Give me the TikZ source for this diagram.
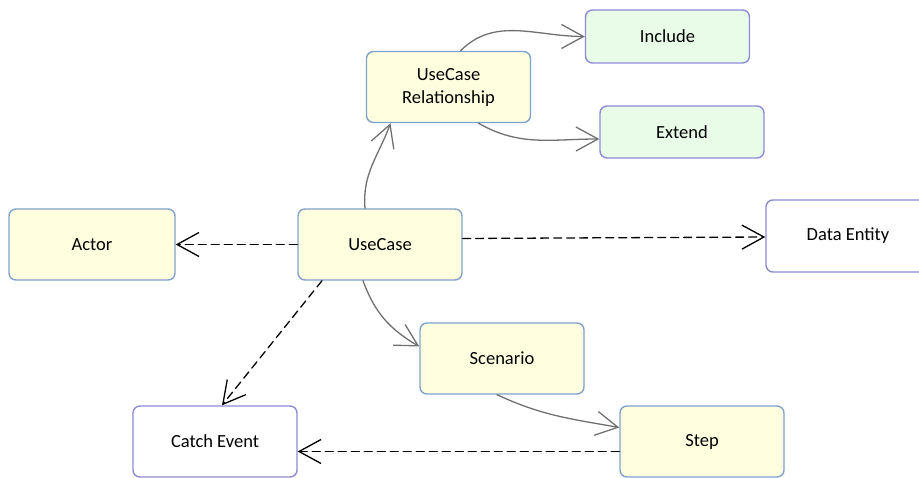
\documentclass[tikz,border=0pt]{standalone}
\usepackage{fontspec}
\setmainfont{Carlito}
\usetikzlibrary{arrows.meta}
\definecolor{ucfill}{HTML}{FFFFE0}
\definecolor{relfill}{HTML}{E8FCE8}
\definecolor{ucline}{HTML}{7FA2CC}
\definecolor{entline}{HTML}{8C8CD6}
\definecolor{flowline}{HTML}{707070}

\begin{document}
\begin{tikzpicture}[x=1pt, y=-1pt, line join=round, line cap=round,
	font=\fontsize{18.5}{23}\selectfont,
	>={Straight Barb[length=22pt,width=24pt,line width=1.3pt]},
	box/.style={draw, line width=1.4pt, rounded corners=7pt, minimum width=164pt, minimum height=71pt, align=center, inner sep=0pt},
	usecasebox/.style={box, draw=ucline, fill=ucfill},
	relbox/.style={box, draw=entline, fill=relfill, minimum height=53pt},
	entitybox/.style={box, draw=entline, fill=white, minimum height=72pt},
	flow/.style={->, draw=flowline, line width=1.3pt},
	depend/.style={->, draw=black, line width=1.3pt, dash pattern=on 8pt off 5pt}]
	\useasboundingbox (0,0) rectangle (919,478);
	% nodes
	\node[relbox] (include) at (667.5,36.5) {Include};
	\node[usecasebox] (ucrel) at (448.5,87) {UseCase\\Relationship};
	\node[relbox, minimum height=52pt] (extend) at (682,132) {Extend};
	\node[usecasebox, minimum width=166pt] (actor) at (92,244.5) {Actor};
	\node[usecasebox] (usecase) at (380,244.5) {UseCase};
	\node[entitybox] (entity) at (848,236) {Data Entity};
	\node[usecasebox] (scenario) at (502,358.5) {Scenario};
	\node[entitybox, minimum height=71pt] (catch) at (215,441.5) {Catch Event};
	\node[usecasebox] (step) at (702,441.5) {Step};
	% solid connectors
	\draw[flow] ([xshift=-15pt]usecase.north) to[out=95, in=250] ([xshift=-58pt]ucrel.south);
	\draw[flow] ([xshift=12pt]ucrel.north) to[out=45, in=180] (include.west);
	\draw[flow] ([xshift=30pt]ucrel.south) to[out=-30, in=180] ([yshift=-7pt]extend.west);
	\draw[flow] ([xshift=-17pt]usecase.south) to[out=-70, in=150] ([yshift=12pt]scenario.west);
	\draw[flow] ([xshift=-5pt]scenario.south) to[out=-25, in=170] ([yshift=14pt]step.west);
	% dashed connectors
	\draw[depend] (usecase.west) -- (actor.east);
	\draw[depend] ([yshift=6pt]usecase.east) -- ([yshift=-1pt]entity.west);
	\draw[depend] ([xshift=-58pt]usecase.south) -- ([xshift=7pt]catch.north);
	\draw[depend] ([yshift=-10pt]step.west) -- ([yshift=-10pt]catch.east);
\end{tikzpicture}
\end{document}
